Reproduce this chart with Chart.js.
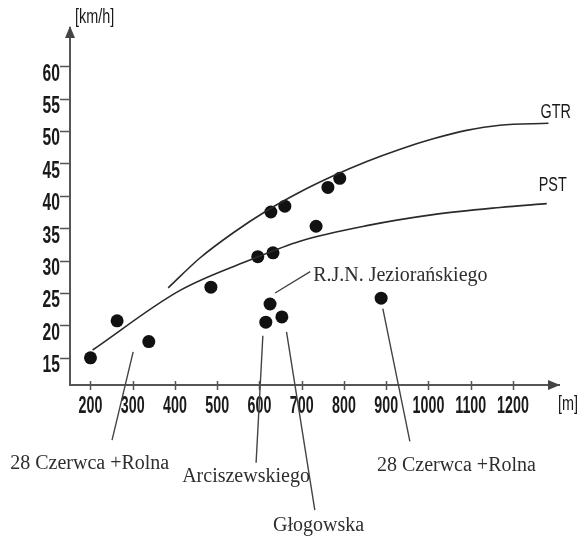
<!DOCTYPE html>
<html>
<head>
<meta charset="utf-8">
<script src="https://cdn.jsdelivr.net/npm/chart.js@4"></script>
<style>
  html, body { margin: 0; padding: 0; background: #fff; }
  canvas { display: block; }
</style>
</head>
<body>
<canvas id="c" width="580" height="538"></canvas>
<script>
// Measured sites: distance [m] and speed [km/h]
const siteDistance = [200, 263, 338, 485, 596, 632, 627, 660, 734, 762, 790, 625, 615, 653, 888];
const siteSpeed    = [15.0, 20.7, 17.5, 25.9, 30.6, 31.2, 37.5, 38.4, 35.3, 41.3, 42.7, 23.3, 20.5, 21.3, 24.2];

// GTR model curve
const gtrDistance = [384, 459, 538, 617, 696, 775, 854, 933, 1011, 1090, 1169, 1284];
const gtrSpeed    = [25.8, 30.4, 34.3, 37.7, 40.6, 43.1, 45.3, 47.2, 48.8, 50.1, 50.9, 51.2];

// PST model curve
const pstDistance = [205, 412, 582, 696, 854, 1011, 1169, 1280];
const pstSpeed    = [16.2, 25.4, 30.2, 33.0, 35.4, 37.1, 38.2, 38.8];

// Axis ticks
const xTicks = [200, 300, 400, 500, 600, 700, 800, 900, 1000, 1100, 1200];
const yTicks = [15, 20, 25, 30, 35, 40, 45, 50, 55, 60];

// Street callouts: text anchor and leader line, in axis units
const callouts = [
  { text: 'R.J.N. Jeziorańskiego', at: [727, 26.8],  from: [720, 28.3],  to: [637, 25.0] },
  { text: '28 Czerwca +Rolna',     at: [10, -2.2],   from: [301, 15.9],  to: [251, 2.3] },
  { text: 'Arciszewskiego',        at: [417, -4.1],  from: [608, 18.4],  to: [592, -1.2] },
  { text: 'Głogowska',             at: [632, -11.7], from: [664, 19.0],  to: [731, -8.5] },
  { text: '28 Czerwca +Rolna',     at: [878, -2.4],  from: [892, 22.6],  to: [956, 2.1] }
];

const pts = (xs, ys) => xs.map((x, i) => ({ x, y: ys[i] }));

const SANS = "'Liberation Sans', Arial, sans-serif";
const SERIF = "'Liberation Serif', 'Times New Roman', serif";

// Condensed text, as in the printed figure
function squeezed(ctx, text, x, y, sx, align) {
  ctx.save();
  ctx.translate(x, y);
  ctx.scale(sx, 1);
  ctx.textAlign = align;
  ctx.fillText(text, 0, 0);
  ctx.restore();
}

const decorations = {
  id: 'decorations',
  afterDraw(chart) {
    const { ctx, chartArea: a, scales: { x, y } } = chart;
    ctx.save();

    // arrow heads
    ctx.fillStyle = '#444';
    ctx.beginPath();
    ctx.moveTo(a.left, a.top - 2);
    ctx.lineTo(a.left - 5, a.top + 10);
    ctx.lineTo(a.left + 5, a.top + 10);
    ctx.closePath();
    ctx.fill();
    ctx.beginPath();
    ctx.moveTo(a.right + 1, a.bottom);
    ctx.lineTo(a.right - 11, a.bottom - 5);
    ctx.lineTo(a.right - 11, a.bottom + 5);
    ctx.closePath();
    ctx.fill();

    // tick marks
    ctx.strokeStyle = '#555';
    ctx.lineWidth = 1.5;
    ctx.beginPath();
    yTicks.forEach(v => {
      const py = Math.round(y.getPixelForValue(v)) + 0.5;
      ctx.moveTo(a.left - 10, py);
      ctx.lineTo(a.left, py);
    });
    xTicks.forEach(v => {
      const px = Math.round(x.getPixelForValue(v)) + 0.5;
      ctx.moveTo(px, a.bottom - 4);
      ctx.lineTo(px, a.bottom + 5);
    });
    ctx.stroke();

    // tick labels
    ctx.fillStyle = '#1a1a1a';
    ctx.font = 'bold 23px ' + SANS;
    ctx.textBaseline = 'middle';
    yTicks.forEach(v => {
      squeezed(ctx, String(v), a.left - 10, y.getPixelForValue(v) + 8, 0.68, 'right');
    });
    xTicks.forEach(v => {
      squeezed(ctx, String(v), x.getPixelForValue(v), a.bottom + 22, 0.62, 'center');
    });

    // axis units
    ctx.font = '20px ' + SANS;
    squeezed(ctx, '[km/h]', a.left + 5, a.top - 11, 0.72, 'left');
    squeezed(ctx, '[m]', a.right - 1, a.bottom + 19, 0.72, 'left');

    // curve names
    chart.data.datasets.forEach(ds => {
      if (!ds.curveName) return;
      const last = ds.data[ds.data.length - 1];
      const px = x.getPixelForValue(last.x);
      const py = y.getPixelForValue(last.y);
      squeezed(ctx, ds.curveName, px - 8, py + ds.nameDy, 0.72, 'left');
    });

    // callouts
    ctx.strokeStyle = '#444';
    ctx.lineWidth = 1.4;
    ctx.beginPath();
    callouts.forEach(c => {
      ctx.moveTo(x.getPixelForValue(c.from[0]), y.getPixelForValue(c.from[1]));
      ctx.lineTo(x.getPixelForValue(c.to[0]), y.getPixelForValue(c.to[1]));
    });
    ctx.stroke();
    ctx.fillStyle = '#2e2e2e';
    ctx.font = '20px ' + SERIF;
    ctx.textAlign = 'left';
    ctx.textBaseline = 'alphabetic';
    callouts.forEach(c => {
      ctx.fillText(c.text, x.getPixelForValue(c.at[0]), y.getPixelForValue(c.at[1]));
    });

    ctx.restore();
  }
};

new Chart(document.getElementById('c'), {
  type: 'scatter',
  data: {
    datasets: [
      {
        label: 'GTR',
        curveName: 'GTR',
        nameDy: -11,
        data: pts(gtrDistance, gtrSpeed),
        showLine: true,
        borderColor: '#2a2a2a',
        borderWidth: 1.6,
        pointRadius: 0,
        cubicInterpolationMode: 'monotone',
        fill: false
      },
      {
        label: 'PST',
        curveName: 'PST',
        nameDy: -18,
        data: pts(pstDistance, pstSpeed),
        showLine: true,
        borderColor: '#2a2a2a',
        borderWidth: 1.6,
        pointRadius: 0,
        cubicInterpolationMode: 'monotone',
        fill: false
      },
      {
        label: 'sites',
        data: pts(siteDistance, siteSpeed),
        pointRadius: 6.5,
        pointBackgroundColor: '#111',
        pointBorderColor: '#111',
        pointBorderWidth: 0
      }
    ]
  },
  options: {
    responsive: false,
    devicePixelRatio: 1,
    animation: false,
    layout: { padding: { left: 70, right: 21, top: 28, bottom: 153 } },
    plugins: { legend: { display: false }, tooltip: { enabled: false } },
    scales: {
      x: {
        type: 'linear',
        min: 151.5,
        max: 1309,
        ticks: { display: false },
        afterBuildTicks: s => { s.ticks = xTicks.map(v => ({ value: v })); },
        grid: { display: false, drawTicks: false },
        border: { display: true, color: '#555', width: 2 }
      },
      y: {
        type: 'linear',
        min: 10.8,
        max: 65.9,
        ticks: { display: false },
        afterBuildTicks: s => { s.ticks = yTicks.map(v => ({ value: v })); },
        grid: { display: false, drawTicks: false },
        border: { display: true, color: '#555', width: 2 }
      }
    }
  },
  plugins: [decorations]
});
</script>
</body>
</html>
